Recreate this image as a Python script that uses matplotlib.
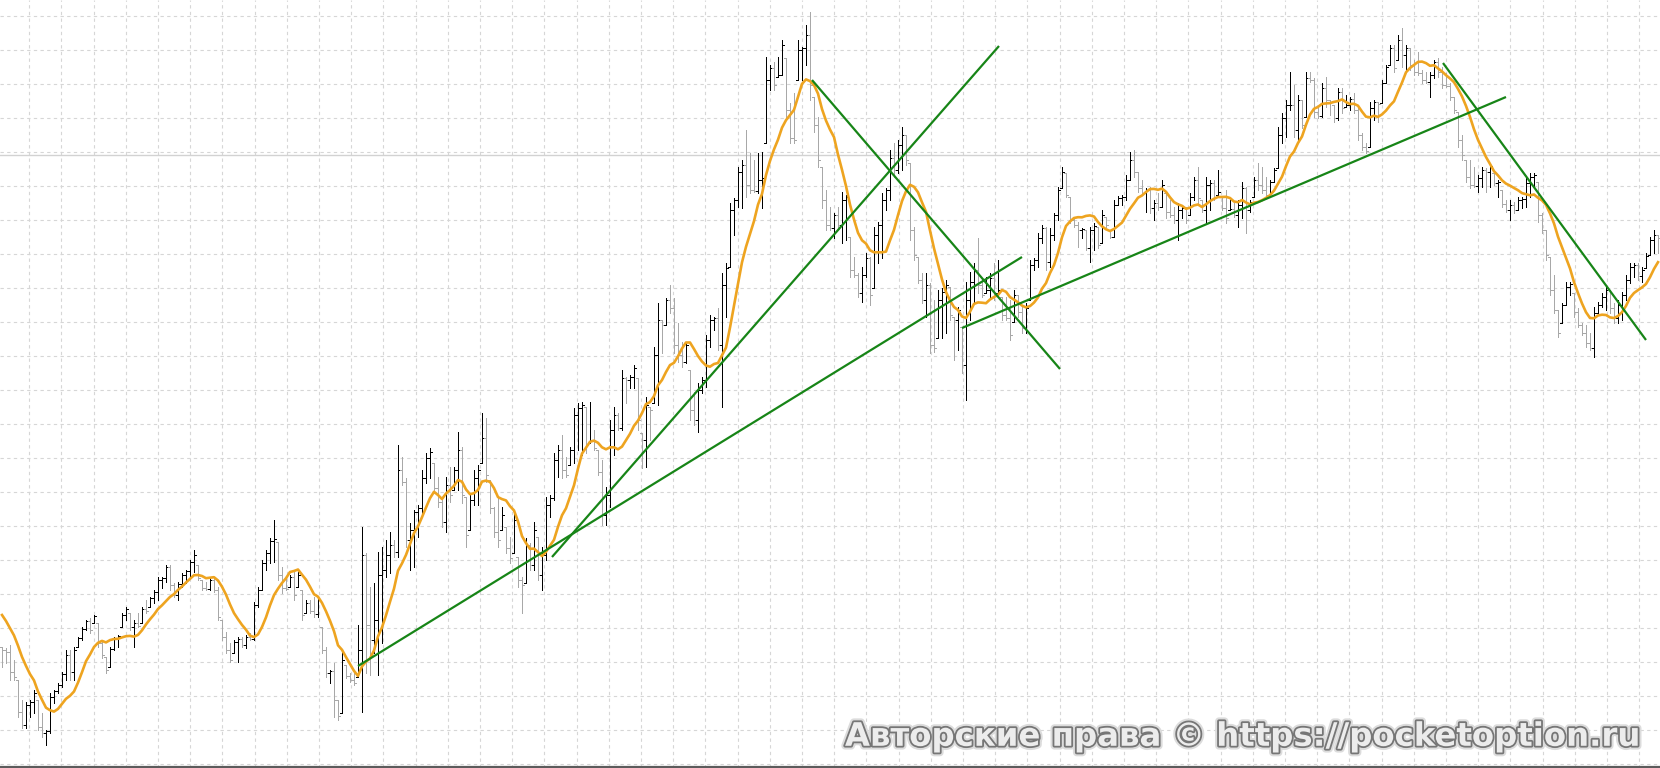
# OHLC bar chart with a 10-bar moving average and hand-drawn trend lines
import numpy as np
import pandas as pd
import matplotlib
matplotlib.use("Agg")
import matplotlib.pyplot as plt
from matplotlib.collections import LineCollection
import matplotlib.patheffects as pe

# price levels (scale counted downward from the top edge)
bar_high = [
    # bars 0-99
    647, 648, 645, 660, 680, 700, 702, 700, 690, 700, 713, 730, 693, 690, 683, 672, 650, 650, 647, 637,
    627, 620, 618, 615, 623, 640, 657, 647, 637, 635, 613, 607, 613, 620, 613, 607, 600, 597, 590, 577,
    577, 565, 565, 583, 582, 573, 570, 560, 550, 565, 580, 582, 578, 578, 587, 620, 632, 643, 640, 637,
    637, 635, 633, 602, 587, 560, 550, 538, 520, 542, 567, 578, 575, 570, 572, 590, 600, 600, 597, 597,
    627, 647, 670, 663, 700, 650, 665, 673, 670, 625, 527, 553, 587, 583, 552, 547, 540, 532, 540, 445,
    # bars 100-164
    457, 478, 523, 510, 505, 470, 453, 448, 463, 477, 500, 477, 467, 467, 432, 447, 497, 493, 470, 465,
    413, 418, 480, 507, 497, 507, 527, 537, 513, 557, 577, 538, 543, 522, 537, 547, 497, 495, 453, 445,
    435, 457, 447, 408, 403, 402, 407, 402, 430, 450, 460, 487, 420, 407, 413, 370, 377, 375, 365, 378,
    433, 397, 407, 347, 303,
    # bars 165-249
    320, 298, 285, 298, 323, 342, 342, 370, 392, 383, 377, 335, 315, 317, 308, 273, 263, 203, 198, 167,
    160, 130, 153, 160, 153, 152, 57, 65, 62, 57, 40, 58, 103, 93, 40, 47, 25, 12, 97, 117,
    167, 190, 207, 213, 207, 192, 195, 237, 257, 273, 267, 253, 257, 227, 222, 193, 188, 150, 143, 140,
    127, 135, 163, 227, 257, 273, 273, 283, 300, 290, 288, 280, 287, 317, 307, 327, 282, 272, 263, 238,
    280, 277, 273, 263, 260,
    # bars 250-324
    297, 297, 300, 290, 295, 307, 303, 260, 258, 233, 225, 227, 228, 213, 187, 167, 173, 197, 217, 222,
    228, 230, 227, 223, 227, 210, 217, 230, 200, 196, 195, 175, 152, 150, 172, 180, 188, 187, 200, 193,
    180, 193, 200, 207, 203, 207, 207, 193, 177, 167, 200, 177, 180, 180, 170, 197, 190, 200, 203, 200,
    182, 187, 200, 177, 163, 167, 177, 180, 168, 127, 113, 100, 72, 85, 95,
    # bars 325-414
    100, 72, 72, 78, 108, 83, 77, 100, 105, 88, 88, 95, 97, 93, 107, 133, 143, 102, 100, 102,
    80, 65, 45, 45, 35, 28, 45, 48, 60, 52, 70, 72, 72, 60, 58, 67, 73, 83, 97, 112,
    135, 160, 160, 167, 175, 167, 168, 163, 173, 180, 190, 200, 200, 202, 197, 197, 178, 173, 173, 182,
    213, 230, 257, 275, 310, 303, 282, 282, 293, 308, 323, 325, 333, 307, 302, 293, 285, 290, 303, 300,
    292, 275, 263, 263, 263, 267, 253, 237, 230, 235,
]
bar_low = [
    667, 663, 680, 680, 717, 728, 728, 717, 713, 730, 737, 745, 733, 703, 693, 687, 680, 680, 680, 647,
    640, 630, 633, 623, 647, 658, 673, 667, 650, 647, 627, 620, 630, 647, 627, 623, 613, 607, 603, 600,
    588, 582, 590, 597, 600, 587, 583, 577, 572, 580, 590, 590, 590, 592, 620, 640, 653, 662, 653, 662,
    647, 648, 640, 640, 607, 590, 570, 563, 562, 580, 593, 590, 587, 600, 587, 620, 613, 613, 617, 617,
    653, 677, 683, 717, 720, 713, 678, 682, 685, 677, 712, 673, 675, 653, 675, 643, 577, 573, 557, 557,
    485, 547, 570, 567, 537, 513, 483, 478, 493, 507, 527, 532, 502, 490, 490, 503, 547, 530, 505, 505,
    463, 482, 513, 537, 547, 530, 553, 563, 553, 587, 613, 583, 570, 570, 580, 590, 560, 517, 500, 477,
    478, 477, 465, 463, 450, 455, 453, 443, 450, 475, 525, 525, 507, 455, 430, 430, 403, 388, 388, 430,
    468, 467, 440, 403, 405,
    353, 325, 313, 353, 362, 367, 363, 420, 425, 432, 393, 387, 347, 330, 350, 407, 317, 267, 235, 207,
    208, 197, 193, 192, 193, 208, 143, 90, 90, 77, 75, 118, 143, 143, 80, 80, 65, 100, 132, 167,
    208, 230, 230, 238, 227, 243, 240, 277, 277, 297, 302, 277, 305, 288, 263, 258, 210, 200, 177, 173,
    170, 165, 240, 260, 283, 303, 317, 353, 352, 338, 338, 333, 320, 360, 350, 373, 400, 320, 302, 293,
    297, 293, 297, 300, 293,
    320, 320, 340, 322, 317, 333, 333, 300, 270, 267, 243, 270, 267, 240, 220, 188, 197, 223, 227, 247,
    238, 250, 262, 250, 248, 243, 227, 238, 237, 205, 205, 200, 180, 177, 192, 195, 212, 213, 220, 210,
    207, 218, 217, 223, 240, 218, 223, 215, 200, 203, 212, 223, 210, 200, 195, 210, 223, 210, 217, 227,
    218, 233, 212, 197, 190, 193, 197, 197, 182, 168, 143, 137, 110, 137, 142,
    128, 117, 82, 117, 118, 117, 107, 115, 122, 120, 113, 107, 110, 113, 140, 150, 153, 147, 120, 122,
    103, 83, 65, 72, 60, 67, 70, 70, 75, 75, 83, 83, 97, 78, 77, 88, 87, 100, 113, 147,
    160, 182, 188, 187, 192, 187, 192, 187, 185, 197, 207, 212, 220, 213, 210, 208, 207, 197, 188, 222,
    233, 260, 295, 313, 337, 323, 305, 295, 317, 327, 335, 347, 350, 357, 313, 307, 310, 313, 323, 323,
    320, 300, 283, 277, 280, 282, 268, 255, 253, 253,
]
bar_close = [
    650, 652, 672, 677, 712, 725, 705, 702, 693, 727, 733, 731, 697, 691, 685, 674, 655, 672, 650, 638,
    629, 621, 630, 616, 643, 655, 670, 649, 639, 636, 615, 609, 627, 623, 626, 609, 611, 598, 592, 580,
    578, 567, 585, 595, 584, 575, 571, 562, 555, 578, 588, 589, 580, 590, 617, 637, 650, 660, 642, 639,
    645, 637, 639, 605, 590, 563, 553, 541, 539, 575, 588, 589, 577, 595, 575, 615, 603, 611, 614, 600,
    650, 673, 671, 700, 716, 660, 676, 680, 683, 650, 555, 625, 640, 620, 575, 570, 555, 545, 552, 470,
    482, 540, 530, 512, 508, 478, 458, 452, 488, 502, 522, 485, 495, 470, 450, 495, 535, 500, 478, 470,
    438, 475, 508, 532, 540, 515, 548, 558, 520, 580, 585, 545, 565, 530, 575, 555, 505, 498, 460, 450,
    470, 475, 450, 415, 408, 405, 445, 440, 448, 472, 515, 495, 430, 415, 428, 378, 380, 377, 368, 420,
    440, 405, 410, 355, 320,
    325, 300, 308, 345, 355, 362, 345, 410, 420, 390, 380, 340, 320, 318, 345, 285, 268, 210, 200, 172,
    165, 185, 190, 191, 180, 178, 80, 68, 85, 75, 45, 110, 138, 140, 50, 48, 35, 85, 125, 160,
    200, 225, 228, 215, 225, 200, 197, 270, 275, 293, 275, 258, 295, 235, 225, 200, 190, 158, 170, 145,
    135, 160, 230, 255, 280, 300, 285, 345, 348, 300, 292, 285, 315, 320, 310, 365, 300, 282, 270, 285,
    295, 290, 278, 295, 290,
    315, 318, 335, 295, 312, 328, 308, 265, 260, 238, 228, 262, 235, 215, 190, 172, 195, 220, 225, 230,
    229, 248, 230, 226, 245, 215, 225, 237, 205, 198, 197, 180, 160, 172, 188, 193, 190, 208, 203, 207,
    185, 212, 215, 220, 210, 208, 220, 197, 180, 198, 210, 185, 183, 197, 192, 208, 218, 209, 215, 205,
    188, 210, 202, 180, 185, 190, 195, 182, 170, 135, 118, 105, 105, 130, 100,
    125, 78, 80, 112, 116, 88, 100, 102, 118, 92, 108, 105, 99, 110, 135, 147, 151, 108, 102, 104,
    83, 67, 48, 68, 40, 55, 48, 65, 72, 73, 80, 82, 75, 62, 72, 85, 86, 97, 110, 140,
    155, 177, 185, 186, 178, 170, 172, 166, 183, 182, 204, 210, 205, 210, 200, 199, 183, 177, 175, 215,
    230, 255, 290, 310, 333, 305, 287, 284, 312, 325, 333, 343, 348, 313, 305, 297, 290, 308, 318, 305,
    295, 280, 267, 265, 276, 270, 256, 240, 235, 238,
]
# closes of the bars just left of the window (needed to start the average)
lead_close = [592, 600, 605, 610, 612, 615, 620, 630, 616]
ma_period = 10

# trend lines: (bar, level) anchors
trend_start_bar = [89, 137.5, 202.5, 240, 360.25]
trend_start_level = [666, 557, 80, 328, 63]
trend_end_bar = [255, 249.25, 264.5, 376, 411]
trend_end_level = [257, 46, 369, 97, 340]

price_line_level = 155
watermark = "Авторские права © https://pocketoption.ru"

hi = np.array(bar_high, dtype=float)
lo = np.array(bar_low, dtype=float)
cl = np.array(bar_close, dtype=float)
n = len(cl)
idx = np.arange(n)
prev = np.concatenate([[lead_close[-1]], cl[:-1]])
op = np.clip(prev, hi, lo)
up = cl <= op  # smaller level = higher price

ma = pd.Series(lead_close + bar_close).rolling(ma_period).mean().to_numpy()[len(lead_close):]

fig = plt.figure(figsize=(16.6, 7.68), dpi=100)
ax = fig.add_axes([0, 0, 1, 1])
ax.set_xlim(-0.5, n - 0.5)
ax.set_ylim(768, 0)
ax.set_xticks(np.arange(6.8, n, 8.05))
ax.set_yticks(np.arange(16, 768, 34))
ax.grid(True, color="#d6d6d6", linestyle=(0, (3, 3)), linewidth=0.8)
ax.set_axisbelow(True)
ax.tick_params(length=0, labelbottom=False, labelleft=False)
for s in ax.spines.values():
    s.set_visible(False)

ax.axhline(price_line_level, color="#d2d2d2", lw=1, zorder=1)
ax.axhline(766.5, color="#5c5c5c", lw=1.6, zorder=6)

# OHLC bars
segs, cols = [], []
for i in idx:
    c = "#000000" if up[i] else "#a8a8a8"
    segs += [[(i, hi[i]), (i, lo[i])],
             [(i - 0.45, op[i]), (i, op[i])],
             [(i, cl[i]), (i + 0.45, cl[i])]]
    cols += [c, c, c]
ax.add_collection(LineCollection(segs, colors=cols, linewidths=0.72, antialiased=False, zorder=2))

# moving average
ax.plot(idx, ma, color="#eea420", lw=1.9, zorder=3)

# trend lines
for sb, sl, eb, el in zip(trend_start_bar, trend_start_level, trend_end_bar, trend_end_level):
    ax.plot([sb, eb], [sl, el], color="#178517", lw=1.6, zorder=4, solid_capstyle="butt")

fig.text(0.509, 0.04, watermark, ha="left", va="center", fontsize=23.3, fontweight="bold",
         color="#ececec", zorder=10,
         path_effects=[pe.Stroke(linewidth=5.5, foreground="#dcdcdc"),
                       pe.Stroke(linewidth=2.6, foreground="#767676"),
                       pe.Normal()])

fig.savefig("out.png", dpi=100)
